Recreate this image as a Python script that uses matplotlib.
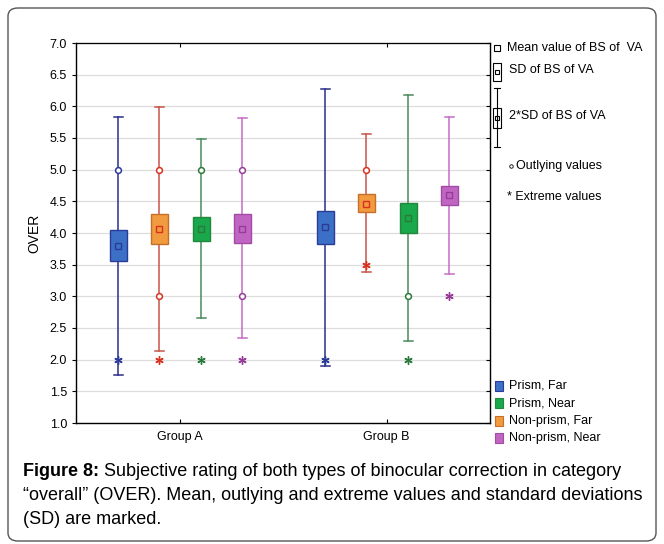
import matplotlib
matplotlib.use('Agg')
import matplotlib.pyplot as plt
from matplotlib.patches import Rectangle, FancyBboxPatch
from matplotlib.lines import Line2D

# data
groups = ['Group A', 'Group B']
series = ['Prism, Far', 'Non-prism, Far', 'Prism, Near', 'Non-prism, Near']
mean_vals = [[3.80, 4.09], [4.07, 4.46], [4.07, 4.23], [4.07, 4.60]]
box_lo = [[3.56, 3.83], [3.83, 4.33], [3.88, 4.00], [3.84, 4.44]]
box_hi = [[4.05, 4.35], [4.30, 4.61], [4.25, 4.47], [4.30, 4.75]]
whisk_lo = [[1.76, 1.90], [2.14, 3.38], [2.66, 2.29], [2.34, 3.35]]
whisk_hi = [[5.83, 6.28], [5.99, 5.57], [5.49, 6.18], [5.81, 5.83]]
outliers = [[[5.0], []], [[5.0, 3.0], [5.0]], [[5.0], [3.0]], [[5.0, 3.0], []]]
extremes = [[[2.0], [2.0]], [[2.0], [3.5]], [[2.0], [2.0]], [[2.0], [3.0]]]
yticks = [1.0, 1.5, 2.0, 2.5, 3.0, 3.5, 4.0, 4.5, 5.0, 5.5, 6.0, 6.5, 7.0]
legend_order = ['Prism, Far', 'Prism, Near', 'Non-prism, Far', 'Non-prism, Near']

fill_colors = {'Prism, Far': '#3c6fc6', 'Non-prism, Far': '#f29a3e',
               'Prism, Near': '#19a84c', 'Non-prism, Near': '#c066c2'}
edge_colors = {'Prism, Far': '#2b3c98', 'Non-prism, Far': '#c4702c',
               'Prism, Near': '#23883c', 'Non-prism, Near': '#a24aa4'}
line_colors = {'Prism, Far': '#2b2f8c', 'Non-prism, Far': '#c8544a',
               'Prism, Near': '#4a8a5a', 'Non-prism, Near': '#c46cc6'}
mean_colors = {'Prism, Far': '#2b3c98', 'Non-prism, Far': '#d83220',
               'Prism, Near': '#2a7a3a', 'Non-prism, Near': '#983a9a'}

W, H = 664, 544
fig = plt.figure(figsize=(W / 100, H / 100), dpi=100)
fig.patch.set_facecolor('white')


def fx(px):
    return px / W


def fy(py):
    return 1 - py / H


# outer frame
frame = FancyBboxPatch((fx(8), fy(541)), fx(648), (533) / H,
                       boxstyle='round,pad=0,rounding_size=0.015',
                       transform=fig.transFigure, facecolor='none',
                       edgecolor='#555555', linewidth=1.0)
fig.patches.append(frame)

ax = fig.add_axes([fx(76), fy(423), fx(490 - 76), (423 - 43) / H])
ax.set_xlim(0, 2)
ax.set_ylim(1.0, 7.0)
ax.set_yticks(yticks)
ax.set_yticklabels(['%.1f' % v for v in yticks], fontsize=9, family='Liberation Sans')
ax.set_xticks([0.5, 1.5])
ax.set_xticklabels(groups, fontsize=9, family='Liberation Sans')
ax.tick_params(axis='x', direction='in', top=True, length=3, pad=6)
ax.tick_params(axis='y', direction='out', length=3)
ax.set_ylabel('OVER', fontsize=10, family='Liberation Sans', labelpad=6)
for v in yticks[1:-1]:
    ax.axhline(v, color='#dddddd', linewidth=0.9, zorder=0)
for s in ax.spines.values():
    s.set_color('#333333')
    s.set_linewidth(1.0)
ax.spines['top'].set_color('#777777')

# inward ticks on the right spine
axr = ax.twinx()
axr.set_ylim(1.0, 7.0)
axr.set_yticks(yticks)
axr.set_yticklabels([])
axr.tick_params(axis='y', direction='in', length=3)

offsets = [-0.295, -0.097, 0.106, 0.304]
bw = 0.085
cap = 0.045
for i, name in enumerate(series):
    for g in range(len(groups)):
        x = 0.5 + g + offsets[i]
        lc = line_colors[name]
        ax.plot([x, x], [whisk_lo[i][g], whisk_hi[i][g]], color=lc, lw=1.1, zorder=2)
        ax.plot([x - cap / 2, x + cap / 2], [whisk_lo[i][g]] * 2, color=lc, lw=1.1, zorder=2)
        ax.plot([x - cap / 2, x + cap / 2], [whisk_hi[i][g]] * 2, color=lc, lw=1.1, zorder=2)
        ax.add_patch(Rectangle((x - bw / 2, box_lo[i][g]), bw, box_hi[i][g] - box_lo[i][g],
                               facecolor=fill_colors[name], edgecolor=edge_colors[name],
                               lw=1.0, zorder=3))
        ax.plot([x], [mean_vals[i][g]], marker='s', ms=4.5, mfc='none',
                mec=mean_colors[name], mew=1.0, zorder=4)
        for o in outliers[i][g]:
            ax.plot([x], [o], marker='o', ms=4.2, mfc='white', mec=mean_colors[name], mew=1.1, zorder=4)
        for e in extremes[i][g]:
            ax.plot([x], [e], marker=(6, 2, 0), ms=6, color=mean_colors[name], mew=1.0, zorder=4)

# top-right key
tf = dict(fontsize=9, family='Liberation Sans', va='center', ha='left', transform=fig.transFigure)
fig.add_artist(Line2D([fx(497)], [fy(48)], marker='s', ms=4, mfc='none', mec='black', mew=0.8,
                      transform=fig.transFigure))
fig.text(fx(507), fy(48), 'Mean value of BS of  VA', **tf)
fig.add_artist(Rectangle((fx(493), fy(81)), fx(8), 18 / H, facecolor='none', edgecolor='black',
                         lw=0.8, transform=fig.transFigure))
fig.add_artist(Line2D([fx(497)], [fy(72)], marker='s', ms=3.5, mfc='none', mec='black', mew=0.8,
                      transform=fig.transFigure))
fig.text(fx(509), fy(70), 'SD of BS of VA', **tf)
fig.add_artist(Line2D([fx(497), fx(497)], [fy(88), fy(147)], color='black', lw=0.8,
                      transform=fig.transFigure))
fig.add_artist(Line2D([fx(494), fx(500)], [fy(88), fy(88)], color='black', lw=0.8,
                      transform=fig.transFigure))
fig.add_artist(Line2D([fx(494), fx(500)], [fy(147), fy(147)], color='black', lw=0.8,
                      transform=fig.transFigure))
fig.add_artist(Rectangle((fx(493), fy(128)), fx(8), 20 / H, facecolor='white', edgecolor='black',
                         lw=0.8, transform=fig.transFigure))
fig.add_artist(Line2D([fx(497)], [fy(118)], marker='s', ms=3.5, mfc='none', mec='black', mew=0.8,
                      transform=fig.transFigure))
fig.text(fx(509), fy(116), '2*SD of BS of VA', **tf)
fig.add_artist(Line2D([fx(511)], [fy(166)], marker='o', ms=2.5, mfc='none', mec='black', mew=0.6,
                      transform=fig.transFigure))
fig.text(fx(516), fy(166), 'Outlying values', **tf)
fig.text(fx(507), fy(197), '* Extreme values', **tf)

# bottom-right series key
key_y = [386, 403, 421, 438]
for name, yy in zip(legend_order, key_y):
    fig.add_artist(Rectangle((fx(495), fy(yy + 5)), fx(8), 10 / H, facecolor=fill_colors[name],
                             edgecolor=edge_colors[name], lw=0.8, transform=fig.transFigure))
    fig.text(fx(509), fy(yy), name, **tf)

# caption
cf = dict(fontsize=13.0, family='Liberation Sans', va='center', ha='left',
          transform=fig.transFigure)
t1 = fig.text(fx(23), fy(471), 'Figure 8:', fontweight='bold', **cf)
renderer = fig.canvas.get_renderer()
bb = t1.get_window_extent(renderer=renderer)
fig.text(fx(bb.x1), fy(471), ' Subjective rating of both types of binocular correction in category', **cf)
fig.text(fx(23), fy(495), '\u201coverall\u201d (OVER). Mean, outlying and extreme values and standard deviations', **cf)
fig.text(fx(23), fy(519), '(SD) are marked.', **cf)

fig.savefig('out.png', dpi=100)
